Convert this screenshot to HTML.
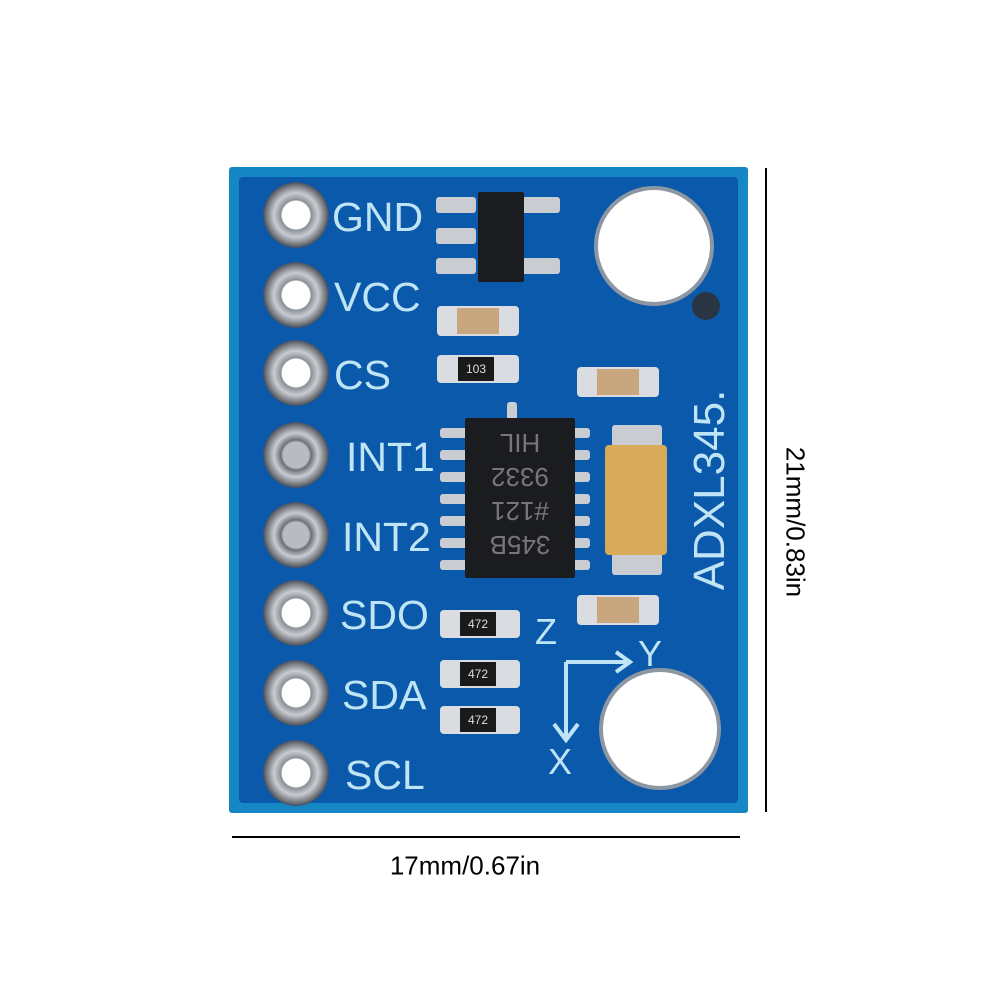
<!DOCTYPE html>
<html><head><style>
body{margin:0;width:1001px;height:1001px;background:#fff;position:relative;overflow:hidden;font-family:"Liberation Sans",sans-serif}
.a{position:absolute}
.board{left:229px;top:167px;width:519px;height:646px;background:#1487c4;border-radius:3px}
.inner{left:239px;top:177px;width:499px;height:626px;background:#0b59aa;border-radius:4px}
.pin{width:66px;height:66px;border-radius:50%;background:radial-gradient(circle,#fff 0 14px,#8a8f96 15px,#c9ccd0 22px,#6f7378 30px,#3b4e6a 33px)}
.pin.g{background:radial-gradient(circle,#b8bcc2 0 13px,#6c7076 15px,#c9ccd0 22px,#6f7378 30px,#3b4e6a 33px)}
.lbl{color:#bfe4f5;font-size:41px;line-height:40px}
.hole{border-radius:50%;background:#fff;box-shadow:0 0 0 4px #8d96a3}
.chip{background:#1b1c1f;border-radius:2px}
.pad{background:#c9cdd2;border-radius:3px}
.res{background:#d9dce0;border-radius:4px}
.rb{background:#1a1a1a;color:#ddd;font-size:12px;text-align:center}
.cap{background:#c8a67e}
</style></head><body>
<div class="a board"></div>
<div class="a inner"></div>

<div class="a pin" style="left:263px;top:182px"></div>
<div class="a pin" style="left:263px;top:262px"></div>
<div class="a pin" style="left:263px;top:340px"></div>
<div class="a pin g" style="left:263px;top:422px"></div>
<div class="a pin g" style="left:263px;top:502px"></div>
<div class="a pin" style="left:263px;top:580px"></div>
<div class="a pin" style="left:263px;top:660px"></div>
<div class="a pin" style="left:263px;top:740px"></div>

<div class="a lbl" style="left:332px;top:197px">GND</div>
<div class="a lbl" style="left:334px;top:277px">VCC</div>
<div class="a lbl" style="left:334px;top:355px">CS</div>
<div class="a lbl" style="left:346px;top:437px">INT1</div>
<div class="a lbl" style="left:342px;top:517px">INT2</div>
<div class="a lbl" style="left:340px;top:595px">SDO</div>
<div class="a lbl" style="left:342px;top:675px">SDA</div>
<div class="a lbl" style="left:345px;top:755px">SCL</div>

<div class="a pad" style="left:436px;top:197px;width:40px;height:16px"></div>
<div class="a pad" style="left:436px;top:228px;width:40px;height:16px"></div>
<div class="a pad" style="left:436px;top:258px;width:40px;height:16px"></div>
<div class="a pad" style="left:522px;top:197px;width:38px;height:16px"></div>
<div class="a pad" style="left:522px;top:258px;width:38px;height:16px"></div>
<div class="a chip" style="left:478px;top:192px;width:46px;height:90px"></div>

<div class="a res" style="left:437px;top:306px;width:82px;height:30px"></div>
<div class="a cap" style="left:457px;top:308px;width:42px;height:26px"></div>
<div class="a res" style="left:437px;top:355px;width:82px;height:28px"></div>
<div class="a rb" style="left:458px;top:357px;width:36px;height:24px;line-height:24px">103</div>
<div class="a res" style="left:577px;top:367px;width:82px;height:30px"></div>
<div class="a cap" style="left:597px;top:369px;width:42px;height:26px"></div>
<div class="a res" style="left:577px;top:595px;width:82px;height:30px"></div>
<div class="a cap" style="left:597px;top:597px;width:42px;height:26px"></div>
<div class="a res" style="left:440px;top:610px;width:80px;height:28px"></div>
<div class="a rb" style="left:460px;top:612px;width:36px;height:24px;line-height:24px">472</div>
<div class="a res" style="left:440px;top:660px;width:80px;height:28px"></div>
<div class="a rb" style="left:460px;top:662px;width:36px;height:24px;line-height:24px">472</div>
<div class="a res" style="left:440px;top:706px;width:80px;height:28px"></div>
<div class="a rb" style="left:460px;top:708px;width:36px;height:24px;line-height:24px">472</div>

<div class="a pad" style="left:507px;top:402px;width:10px;height:20px"></div>
<div class="a pad" style="left:440px;top:428px;width:150px;height:10px"></div>
<div class="a pad" style="left:440px;top:450px;width:150px;height:10px"></div>
<div class="a pad" style="left:440px;top:472px;width:150px;height:10px"></div>
<div class="a pad" style="left:440px;top:494px;width:150px;height:10px"></div>
<div class="a pad" style="left:440px;top:516px;width:150px;height:10px"></div>
<div class="a pad" style="left:440px;top:538px;width:150px;height:10px"></div>
<div class="a pad" style="left:440px;top:560px;width:150px;height:10px"></div>
<div class="a chip" style="left:465px;top:418px;width:110px;height:160px"></div>
<div class="a" style="left:465px;top:430px;width:110px;color:#777;font-size:26px;line-height:34px;text-align:center;transform:rotate(180deg);transform-origin:55px 66px">345B<br>#121<br>9332<br>HIL</div>

<div class="a pad" style="left:612px;top:425px;width:50px;height:150px"></div>
<div class="a" style="left:605px;top:445px;width:62px;height:110px;background:#d9a95a;border-radius:4px"></div>

<div class="a hole" style="left:598px;top:190px;width:112px;height:112px"></div>
<div class="a" style="left:692px;top:292px;width:28px;height:28px;border-radius:50%;background:#2a3544"></div>
<div class="a hole" style="left:603px;top:672px;width:114px;height:114px"></div>

<div class="a" style="top:490px;color:#bfe4f5;font-size:44px;transform:translate(-50%,-50%) rotate(-90deg);transform-origin:center;white-space:nowrap;left:710px">ADXL345.</div>

<div class="a lbl" style="left:535px;top:612px;font-size:36px">Z</div>
<div class="a lbl" style="left:638px;top:634px;font-size:36px">Y</div>
<div class="a lbl" style="left:548px;top:742px;font-size:36px">X</div>
<svg class="a" style="left:0;top:0" width="1001" height="1001">
<g stroke="#bfe4f5" stroke-width="4" fill="none">
<path d="M566 662 H628 M616 652 L630 662 L616 672"/>
<path d="M566 662 V738 M554 724 L566 740 L578 724"/>
</g>
<line x1="766" y1="168" x2="766" y2="812" stroke="#000" stroke-width="2"/>
<line x1="232" y1="837" x2="740" y2="837" stroke="#000" stroke-width="2"/>
</svg>
<div class="a" style="left:465px;top:866px;transform:translate(-50%,-50%);font-size:26px;white-space:nowrap">17mm/0.67in</div>
<div class="a" style="left:795px;top:522px;transform:translate(-50%,-50%) rotate(90deg);font-size:26px;white-space:nowrap">21mm/0.83in</div>
</body></html>
